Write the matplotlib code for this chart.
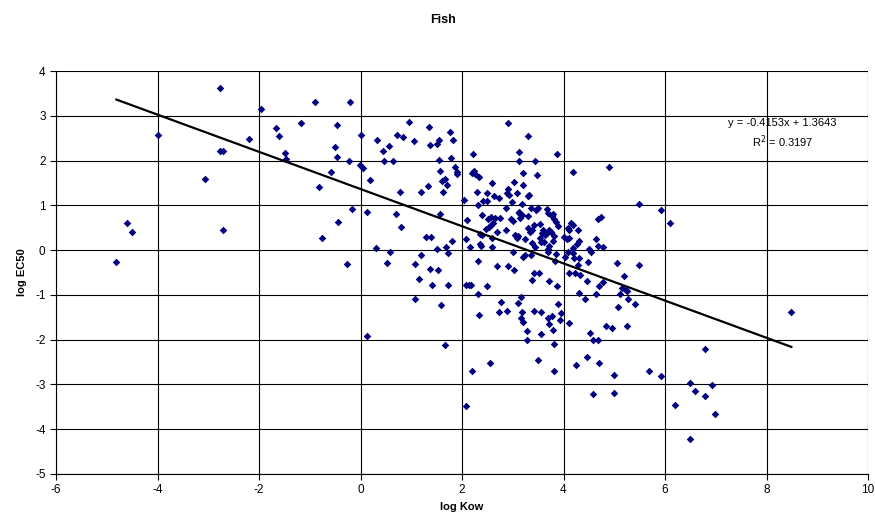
import matplotlib
matplotlib.use("Agg")
import matplotlib.pyplot as plt
import numpy as np

plt.rcParams['font.family'] = ['Liberation Sans', 'DejaVu Sans']
plt.rcParams['axes.unicode_minus'] = False

# log Kow / log EC50, grouped by region
kow_a = [-4.81, -4.61, -4.51, -4.00, -3.06, -2.77, -2.76, -2.71, -2.71, -2.20, -1.97, -1.67, -1.60, -1.49,
         -1.47, -1.17, -0.90, -0.81, -0.76, -0.58, -0.50, -0.47, -0.46, -0.45, -0.27, -0.22, -0.21, -0.17]
ec50_a = [-0.27, 0.61, 0.40, 2.58, 1.59, 3.63, 2.21, 2.21, 0.44, 2.48, 3.16, 2.72, 2.55, 2.17,
          2.04, 2.84, 3.30, 1.40, 0.28, 1.74, 2.30, 2.80, 2.07, 0.63, -0.30, 2.00, 3.30, 0.91]

kow_b = [0.96, 1.34, 0.00, 0.33, 0.72, 0.83, 1.05, 0.56, 0.45, 1.76, 1.82, 1.55, 1.50, 1.36, 0.46, 0.65,
         1.55, 1.78, -0.01, 0.05, 1.87, 1.90, 1.91, 1.57, 0.18, 1.61, 1.67, 1.70, 1.33, 0.77, 1.19, 1.63,
         0.12, 0.70, 1.56, 0.79, 1.29, 1.38, 1.80, 0.31, 0.59, 1.50, 1.69, 1.19,
         1.72, 0.52, 1.08, 1.37, 1.52, 1.16, 1.40, 1.73, 1.08, 1.58, 0.13, 1.67]
ec50_b = [2.87, 2.75, 2.56, 2.45, 2.57, 2.52, 2.44, 2.33, 2.22, 2.64, 2.45, 2.46, 2.38, 2.35, 1.99, 1.99,
          2.01, 2.05, 1.90, 1.84, 1.86, 1.75, 1.69, 1.77, 1.56, 1.54, 1.58, 1.46, 1.43, 1.30, 1.30, 1.30,
          0.86, 0.80, 0.80, 0.51, 0.30, 0.30, 0.21, 0.04, -0.05, 0.03, 0.07, -0.11,
          -0.06, -0.28, -0.32, -0.42, -0.45, -0.64, -0.79, -0.79, -1.09, -1.22, -1.91, -2.13]

kow_c = [2.90, 3.31, 2.21, 3.13, 3.13, 3.44, 3.88, 2.20, 2.24, 2.26, 2.33, 3.21, 3.47, 2.60, 3.02, 3.21,
         2.90, 2.89, 2.92, 2.30, 2.50, 3.09, 3.33, 3.30, 2.63, 2.72, 2.04, 2.41, 2.49, 2.99, 3.18, 2.31]
ec50_c = [2.84, 2.55, 2.14, 2.18, 2.00, 2.00, 2.14, 1.73, 1.77, 1.69, 1.63, 1.73, 1.68, 1.50, 1.51, 1.45,
          1.37, 1.28, 1.24, 1.30, 1.28, 1.27, 1.24, 1.20, 1.20, 1.17, 1.11, 1.09, 1.09, 1.08, 1.02, 1.00]

kow_d = [2.10, 2.07, 2.15, 2.39, 2.52, 2.57, 2.66, 2.74, 2.53, 2.57, 2.48, 2.61, 2.35, 2.68, 2.87, 2.87,
         2.97, 3.01, 3.13, 3.18, 3.15, 3.30, 3.36, 3.50, 3.31, 3.37, 3.34, 3.04, 3.10, 3.53, 3.42, 3.08,
         3.25, 2.35, 2.60, 2.39, 2.59, 3.38, 3.53, 3.44, 2.37, 3.12, 3.46, 3.68, 3.70,
         3.78, 3.82, 3.85, 3.90, 3.80, 3.60, 3.57, 3.63, 3.72, 3.75, 3.68, 3.82, 3.80, 3.55, 3.62, 3.72, 3.69]
ec50_d = [0.68, 0.25, 0.07, 0.78, 0.70, 0.73, 0.72, 0.72, 0.52, 0.57, 0.47, 0.61, 0.36, 0.41, 0.94, 0.46,
          0.70, 0.65, 0.82, 0.78, 0.72, 0.77, 0.94, 0.94, 0.50, 0.46, 0.40, 0.34, 0.31, 0.58, 0.57, 0.26,
          0.24, 0.13, 0.28, 0.33, 0.07, 0.16, 0.27, 0.06, 0.10, 0.85, 0.89, 0.91, 0.83,
          0.76, 0.69, 0.62, 0.53, 0.80, 0.46, 0.38, 0.33, 0.46, 0.40, 0.38, 0.32, 0.21, 0.17, 0.17, 0.10, 0.02]

kow_e = [4.14, 4.18, 4.08, 4.11, 4.28, 4.01, 4.06, 4.11, 4.31, 4.18, 4.67, 4.73, 4.64, 4.67, 4.77, 4.51,
         4.27, 4.18, 4.89, 5.48, 5.93]
ec50_e = [0.60, 0.55, 0.50, 0.46, 0.45, 0.30, 0.25, 0.27, 0.21, 0.04, 0.69, 0.73, 0.24, 0.10, 0.08, 0.02,
          0.14, 1.75, 1.85, 1.04, 0.90]

kow_f = [2.32, 2.68, 2.91, 3.02, 3.00, 3.21, 3.24, 3.35, 3.69, 3.85, 3.83, 3.41, 3.52, 3.37, 3.72, 3.87,
         2.08, 2.14, 2.18, 2.50, 2.31, 3.16, 2.77, 3.10, 2.34, 2.73, 2.89, 3.19, 3.42, 3.55, 3.89, 3.95,
         3.17, 3.21, 3.69, 3.77, 3.72, 3.93, 3.29, 3.55, 3.80, 3.29, 3.81, 2.55, 2.19, 3.50, 3.82, 2.07]
ec50_f = [-0.25, -0.36, -0.36, -0.44, -0.05, -0.15, -0.12, -0.12, -0.04, -0.09, -0.24, -0.50, -0.52, -0.66, -0.68, -0.81,
          -0.77, -0.77, -0.77, -0.81, -0.99, -1.05, -1.15, -1.19, -1.46, -1.39, -1.35, -1.39, -1.37, -1.39, -1.21, -1.40,
          -1.52, -1.61, -1.52, -1.47, -1.64, -1.55, -1.81, -1.88, -1.79, -2.01, -2.09, -2.52, -2.69, -2.46, -2.69, -3.48]

kow_g = [4.03, 4.08, 4.18, 4.21, 4.30, 4.54, 4.28, 4.49, 4.11, 4.23, 4.33, 4.46, 4.69, 4.77, 5.06, 5.49,
         5.19, 5.16, 5.23, 5.26, 5.11, 4.30, 4.64, 4.43, 5.28, 5.40, 5.07, 4.10, 4.84, 4.95, 5.26, 4.52,
         4.59, 4.68, 4.47, 4.25, 4.69, 5.00, 5.69, 5.93, 4.59, 5.00,
         6.10, 8.49, 6.79, 6.49, 6.93, 6.59, 6.79, 6.20, 6.99, 6.49]
ec50_g = [-0.16, -0.05, -0.07, -0.17, -0.17, -0.05, -0.33, -0.27, -0.51, -0.52, -0.56, -0.70, -0.81, -0.72, -0.29, -0.34,
          -0.57, -0.85, -0.89, -0.92, -0.98, -0.96, -0.99, -1.09, -1.10, -1.21, -1.27, -1.62, -1.69, -1.73, -1.69, -1.84,
          -2.01, -2.00, -2.39, -2.56, -2.51, -2.79, -2.69, -2.81, -3.22, -3.19,
          0.61, -1.39, -2.21, -2.96, -3.02, -3.15, -3.26, -3.45, -3.67, -4.21]

# trendline as printed on the chart
slope = -0.4153
intercept = 1.3643
r2 = 0.3197

kow = np.array(kow_a + kow_b + kow_c + kow_d + kow_e + kow_f + kow_g)
ec50 = np.array(ec50_a + ec50_b + ec50_c + ec50_d + ec50_e + ec50_f + ec50_g)

fig = plt.figure(figsize=(8.75, 5.23), dpi=100)
ax = fig.add_axes([56 / 875, 1 - 474 / 523, 812 / 875, 403 / 523])

ax.scatter(kow, ec50, marker='D', s=15, color='#000080', linewidths=0, zorder=3)

xl = np.array([kow.min(), kow.max()])
ax.plot(xl, slope * xl + intercept, color='black', linewidth=1.6, zorder=4)

ax.set_xlim(-6, 10)
ax.set_ylim(-5, 4)
ax.set_xticks(np.arange(-6, 11, 2))
ax.set_yticks(np.arange(-5, 5, 1))
ax.grid(True, color='black', linewidth=0.8)
ax.set_axisbelow(True)
for s in ax.spines.values():
    s.set_color('black')
    s.set_linewidth(0.8)
ax.spines['top'].set_visible(False)
ax.spines['right'].set_visible(False)
ax.tick_params(direction='out', length=4, width=0.8, labelsize=8.5)

ax.set_xlabel("log Kow", fontsize=8, fontweight='bold', labelpad=4)
ax.set_ylabel("log EC50", fontsize=8, fontweight='bold', labelpad=6)
fig.text(443 / 875, 1 - 20 / 523, "Fish", ha='center', va='center', fontsize=9, fontweight='bold')

sign = '-' if intercept < 0 else '+'
ax.text(0.895, 0.871, f"y = {slope:.4f}x {sign} {abs(intercept):.4f}", transform=ax.transAxes,
        ha='center', va='center', fontsize=8)
ax.text(0.895, 0.824, f"R$^2$ = {r2:.4f}", transform=ax.transAxes, ha='center', va='center', fontsize=8)

fig.savefig("out.png", dpi=100)
